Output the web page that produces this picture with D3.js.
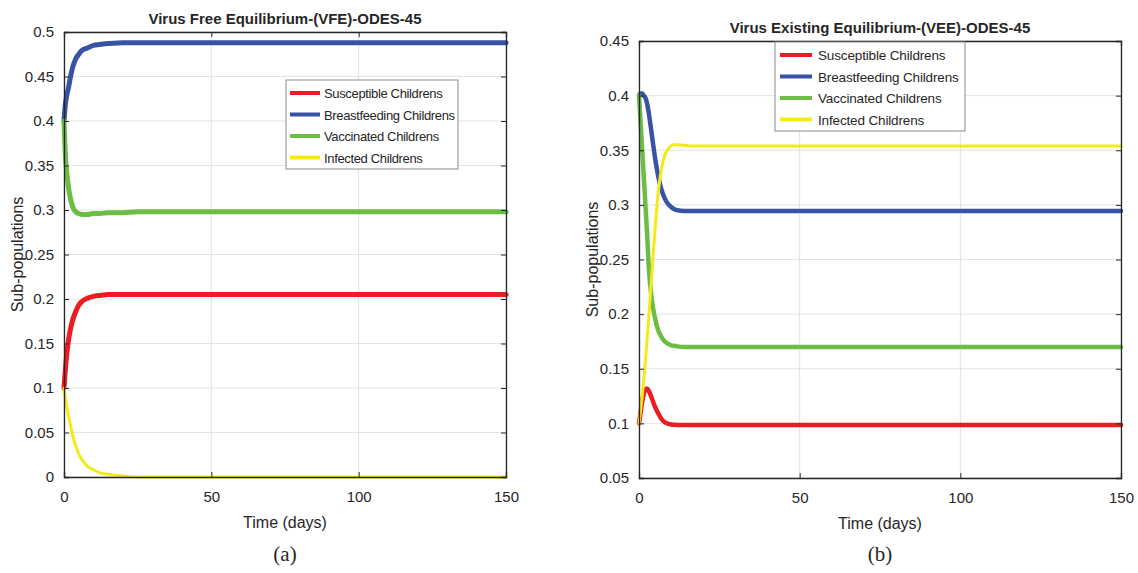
<!DOCTYPE html>
<html>
<head>
<meta charset="utf-8">
<script src="https://cdn.jsdelivr.net/npm/d3@7"></script>
<style>
  body { margin: 0; background: #fff; }
  svg text { font-family: "Liberation Sans Narrow", "Arial Narrow", "Liberation Sans", sans-serif; fill: #262626; }
  .title { font-weight: bold; font-size: 15px; }
  .axis-label { font-size: 16px; }
</style>
</head>
<body>
<div class="chart"></div>
<script>
// ---- data ----
var seriesNames = ["Susceptible Childrens", "Breastfeeding Childrens", "Vaccinated Childrens", "Infected Childrens"];
var seriesColors = ["#ed1c24", "#3953a4", "#6cbd45", "#f4ea1a"];

// panel (a): Virus Free Equilibrium
var vfeTime = [0, 0.5, 1, 1.5, 2, 3, 4, 5, 6, 8, 10, 12, 15, 20, 25, 30, 150];
var vfeSusceptible = [0.1, 0.122, 0.14, 0.153, 0.163, 0.177, 0.186, 0.193, 0.197, 0.201, 0.203, 0.204, 0.205, 0.205, 0.205, 0.205, 0.205];
var vfeBreastfeeding = [0.4, 0.42, 0.43, 0.437, 0.446, 0.461, 0.47, 0.475, 0.479, 0.482, 0.485, 0.486, 0.487, 0.488, 0.488, 0.488, 0.488];
var vfeVaccinated = [0.4, 0.36, 0.34, 0.326, 0.316, 0.303, 0.298, 0.296, 0.295, 0.295, 0.296, 0.296, 0.297, 0.297, 0.298, 0.298, 0.298];
var vfeInfected = [0.1, 0.088, 0.078, 0.069, 0.061, 0.046, 0.035, 0.026, 0.02, 0.012, 0.008, 0.005, 0.003, 0.001, 0, 0, 0];
var vfeYTicks = [0, 0.05, 0.1, 0.15, 0.2, 0.25, 0.3, 0.35, 0.4, 0.45, 0.5];

// panel (b): Virus Existing Equilibrium
var veeTime = [0, 0.5, 1, 1.5, 2, 2.5, 3, 4, 5, 6, 7, 8, 9, 10, 11, 12, 14, 16, 20, 150];
var veeSusceptible = [0.1, 0.11, 0.12, 0.127, 0.131, 0.132, 0.13, 0.123, 0.115, 0.109, 0.104, 0.101, 0.0998, 0.099, 0.0987, 0.0985, 0.0985, 0.0985, 0.0985, 0.0985];
var veeBreastfeeding = [0.4, 0.402, 0.402, 0.4, 0.398, 0.393, 0.385, 0.364, 0.343, 0.326, 0.314, 0.306, 0.301, 0.298, 0.296, 0.295, 0.2945, 0.2945, 0.2945, 0.2945];
var veeVaccinated = [0.4, 0.375, 0.35, 0.325, 0.3, 0.275, 0.245, 0.213, 0.196, 0.185, 0.179, 0.175, 0.173, 0.1715, 0.171, 0.1705, 0.17, 0.17, 0.17, 0.17];
var veeInfected = [0.1, 0.112, 0.125, 0.14, 0.157, 0.176, 0.196, 0.237, 0.278, 0.312, 0.333, 0.345, 0.351, 0.354, 0.355, 0.355, 0.3545, 0.354, 0.354, 0.354];
var veeYTicks = [0.05, 0.1, 0.15, 0.2, 0.25, 0.3, 0.35, 0.4, 0.45];

var xTicks = [0, 50, 100, 150];

var svg = d3.select(".chart").append("svg")
    .attr("width", 1138)
    .attr("height", 573);

svg.append("rect").attr("width", 1138).attr("height", 573).attr("fill", "#fff");

function drawPanel(opts) {
    var width = opts.right - opts.left,
        height = opts.bottom - opts.top;

    var x = d3.scaleLinear().domain([0, 150]).range([0, width]);
    var y = d3.scaleLinear().domain(opts.yDomain).range([height, 0]);

    var g = svg.append("g")
        .attr("transform", `translate(${opts.left}, ${opts.top})`);

    // grid
    g.selectAll(".ygrid").data(opts.yTicks).enter().append("line")
        .attr("x1", 0).attr("x2", width)
        .attr("y1", d => y(d)).attr("y2", d => y(d))
        .style("stroke", "#e3e3e3").style("stroke-width", 1);
    g.selectAll(".xgrid").data(xTicks).enter().append("line")
        .attr("y1", 0).attr("y2", height)
        .attr("x1", d => x(d)).attr("x2", d => x(d))
        .style("stroke", "#e3e3e3").style("stroke-width", 1);

    // lines
    var series = [opts.susceptible, opts.breastfeeding, opts.vaccinated, opts.infected];
    series.forEach(function(vals, i) {
        var pts = opts.time.map((t, j) => [t, vals[j]]);
        var line = d3.line()
            .x(d => x(d[0]))
            .y(d => y(d[1]))
            .curve(d3.curveMonotoneX);
        g.append("path")
            .datum(pts)
            .attr("d", line)
            .style("fill", "none")
            .style("stroke", seriesColors[i])
            .style("stroke-width", i == 3 ? 3 : opts.lineWidth)
            .style("stroke-linejoin", "round")
            .style("stroke-linecap", "round");
    });

    // axes (box with inward ticks, matlab style)
    var axL = g.append("g").call(d3.axisLeft(y).tickValues(opts.yTicks).tickSize(-5).tickPadding(10).tickFormat(d3.format("~g")));
    var axR = g.append("g").attr("transform", `translate(${width}, 0)`)
        .call(d3.axisRight(y).tickValues(opts.yTicks).tickSize(-5).tickFormat(""));
    var axB = g.append("g").attr("transform", `translate(0, ${height})`)
        .call(d3.axisBottom(x).tickValues(xTicks).tickSize(-5).tickPadding(14));
    var axT = g.append("g")
        .call(d3.axisTop(x).tickValues(xTicks).tickSize(-5).tickFormat(""));
    [axL, axR, axB, axT].forEach(function(a) {
        a.selectAll("path").style("stroke", "#262626").style("stroke-width", 1.3);
        a.selectAll("line").style("stroke", "#262626");
        a.selectAll("text").style("font-size", "15px").attr("fill", "#262626");
    });

    // title
    g.append("text")
        .attr("class", "title")
        .attr("x", width / 2)
        .attr("y", -8)
        .style("text-anchor", "middle")
        .text(opts.title);

    // axis labels
    g.append("text")
        .attr("class", "axis-label")
        .attr("x", width / 2)
        .attr("y", height + 51)
        .style("text-anchor", "middle")
        .text("Time (days)");
    g.append("text")
        .attr("class", "axis-label")
        .attr("transform", "rotate(-90)")
        .attr("x", -height / 2)
        .attr("y", opts.yLabelX)
        .style("text-anchor", "middle")
        .text("Sub-populations");

    // caption
    svg.append("text")
        .attr("x", opts.left + width / 2)
        .attr("y", 561)
        .style("text-anchor", "middle")
        .style("font-family", "'Liberation Serif', serif")
        .style("font-size", "21px")
        .text(opts.caption);

    // legend
    var leg = opts.legend;
    var lg = svg.append("g").attr("transform", `translate(${leg.x}, ${leg.y})`);
    lg.append("rect")
        .attr("width", leg.w)
        .attr("height", 89)
        .style("fill", "#fff")
        .style("stroke", "#8c8c8c")
        .style("stroke-width", 1);
    seriesNames.forEach(function(name, i) {
        var yy = 13 + i * 21.5;
        lg.append("line")
            .attr("x1", leg.lineX0).attr("x2", leg.lineX1)
            .attr("y1", yy).attr("y2", yy)
            .style("stroke", seriesColors[i])
            .style("stroke-width", 4);
        lg.append("text")
            .attr("x", leg.textX)
            .attr("y", yy + 5)
            .style("font-size", leg.fontSize + "px")
            .style("letter-spacing", leg.spacing + "px")
            .text(name);
    });
}

drawPanel({
    left: 64, right: 506, top: 32, bottom: 477,
    yDomain: [0, 0.5], yTicks: vfeYTicks,
    time: vfeTime, susceptible: vfeSusceptible, breastfeeding: vfeBreastfeeding,
    vaccinated: vfeVaccinated, infected: vfeInfected,
    title: "Virus Free Equilibrium-(VFE)-ODES-45",
    caption: "(a)", yLabelX: -41, lineWidth: 5,
    legend: {x: 286, y: 80, w: 172, lineX0: 4, lineX1: 34, textX: 38, fontSize: 13, spacing: -0.35}
});

drawPanel({
    left: 639, right: 1121, top: 41, bottom: 478,
    yDomain: [0.05, 0.45], yTicks: veeYTicks,
    time: veeTime, susceptible: veeSusceptible, breastfeeding: veeBreastfeeding,
    vaccinated: veeVaccinated, infected: veeInfected,
    title: "Virus Existing Equilibrium-(VEE)-ODES-45",
    caption: "(b)", yLabelX: -41, lineWidth: 4.5,
    legend: {x: 775, y: 42, w: 190, lineX0: 5, lineX1: 37, textX: 43, fontSize: 13.5, spacing: -0.15}
});
</script>
</body>
</html>
